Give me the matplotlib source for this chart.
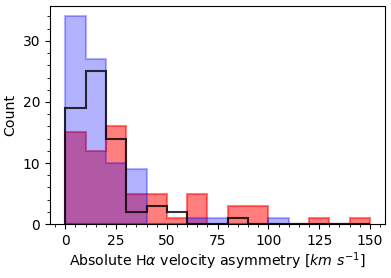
import numpy as np
import matplotlib.pyplot as plt
from matplotlib.ticker import MultipleLocator

# bin edges (km/s) and counts per bin
bin_edges = np.arange(0, 160, 10)
counts_red = [15, 12, 16, 5, 5, 1, 5, 0, 3, 3, 0, 0, 1, 0, 1]
counts_blue = [34, 27, 10, 9, 0, 0, 1, 1, 0, 0, 1, 0, 0, 0, 0]
counts_black = [19, 25, 14, 2, 3, 2, 0, 0, 1, 0, 0, 0, 0, 0, 0]

centers = (bin_edges[:-1] + bin_edges[1:]) / 2

fig = plt.figure(figsize=(3.91, 2.78), dpi=100)
ax = fig.add_axes([0.128, 0.194, 0.857, 0.784])

ax.hist(centers, bins=bin_edges, weights=counts_red, histtype='stepfilled',
        color='red', edgecolor='red', alpha=0.5, linewidth=1.5)
ax.hist(centers, bins=bin_edges, weights=counts_blue, histtype='stepfilled',
        color='blue', edgecolor='blue', alpha=0.3, linewidth=1.5)
ax.hist(centers, bins=bin_edges, weights=counts_black, histtype='step',
        color='black', alpha=0.8, linewidth=1.5)

ax.set_xticks([0, 25, 50, 75, 100, 125, 150])
ax.set_yticks([0, 10, 20, 30])
ax.xaxis.set_minor_locator(MultipleLocator(5))
ax.yaxis.set_minor_locator(MultipleLocator(2))
ax.tick_params(labelsize=10)

ax.set_xlabel(r'Absolute H$\alpha$ velocity asymmetry [$km\ s^{-1}$]', fontsize=10.2, labelpad=2)
ax.set_ylabel('Count', fontsize=10.2)

fig.savefig('out.png', dpi=100)
